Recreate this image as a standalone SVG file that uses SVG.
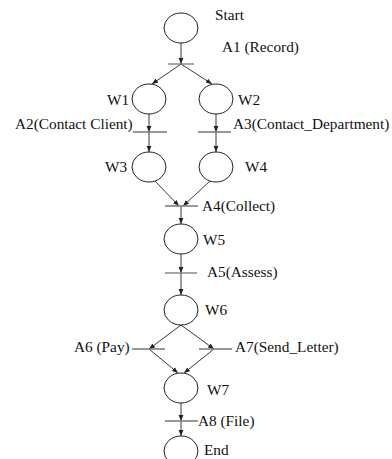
<svg xmlns="http://www.w3.org/2000/svg" width="392" height="459" viewBox="0 0 392 459">
<style>
.place{fill:#fff;stroke:#222;stroke-width:1}
.bar{stroke:#777;stroke-width:1.3}
.lbl{font-family:"Liberation Serif","Times New Roman",serif;font-size:15.3px;fill:#111}
.arc{stroke:#222;stroke-width:0.9;fill:none;marker-end:url(#ah)}
</style>
<defs>
<marker id="ah" viewBox="0 0 10 10" refX="10" refY="5" markerWidth="6" markerHeight="6" markerUnits="userSpaceOnUse" orient="auto">
<path d="M0,1 L10,5 L0,9 z" fill="#222"/>
</marker>
</defs>
<rect width="392" height="459" fill="#fff"/>
<g id="connectors">
<line class="arc" x1="181" y1="43" x2="181" y2="64"/>
<line class="arc" x1="181" y1="64" x2="152" y2="84"/>
<line class="arc" x1="181" y1="64" x2="212" y2="84"/>
<line class="arc" x1="149" y1="114" x2="149" y2="132"/>
<line class="arc" x1="149" y1="132" x2="149" y2="152"/>
<line class="arc" x1="216" y1="114" x2="216" y2="132"/>
<line class="arc" x1="216" y1="132" x2="216" y2="152"/>
<line class="arc" x1="155" y1="181" x2="179" y2="206"/>
<line class="arc" x1="210" y1="181" x2="183" y2="206"/>
<line class="arc" x1="181" y1="206" x2="181" y2="224"/>
<line class="arc" x1="181" y1="254" x2="181" y2="273"/>
<line class="arc" x1="181" y1="273" x2="181" y2="295"/>
<line class="arc" x1="181" y1="325" x2="149" y2="349"/>
<line class="arc" x1="181" y1="325" x2="214" y2="349"/>
<line class="arc" x1="149" y1="349" x2="178" y2="373"/>
<line class="arc" x1="214" y1="349" x2="184" y2="373"/>
<line class="arc" x1="181" y1="403" x2="181" y2="421"/>
<line class="arc" x1="181" y1="421" x2="181" y2="436"/>
</g>
<g id="Start"><ellipse class="place" cx="181" cy="28" rx="17" ry="15"/><text class="lbl" x="215" y="20">Start</text></g>
<g id="A1"><line class="bar" x1="168" y1="64" x2="194" y2="64"/><text class="lbl" x="222" y="52">A1 (Record)</text></g>
<g id="W1"><ellipse class="place" cx="149" cy="99" rx="17" ry="15"/><text class="lbl" x="107" y="105">W1</text></g>
<g id="W2"><ellipse class="place" cx="216" cy="99" rx="17" ry="15"/><text class="lbl" x="238" y="105">W2</text></g>
<g id="A2"><line class="bar" x1="133" y1="132" x2="167" y2="132"/><text class="lbl" x="15" y="129">A2(Contact Client)</text></g>
<g id="A3"><line class="bar" x1="198" y1="132" x2="231" y2="132"/><text class="lbl" x="233" y="129">A3(Contact_Department)</text></g>
<g id="W3"><ellipse class="place" cx="149" cy="167" rx="17" ry="15"/><text class="lbl" x="105" y="172">W3</text></g>
<g id="W4"><ellipse class="place" cx="216" cy="167" rx="17" ry="15"/><text class="lbl" x="245" y="172">W4</text></g>
<g id="A4"><line class="bar" x1="165" y1="206" x2="198" y2="206"/><text class="lbl" x="202" y="211">A4(Collect)</text></g>
<g id="W5"><ellipse class="place" cx="181" cy="239" rx="17" ry="15"/><text class="lbl" x="203" y="245">W5</text></g>
<g id="A5"><line class="bar" x1="165" y1="273" x2="197" y2="273"/><text class="lbl" x="207" y="277">A5(Assess)</text></g>
<g id="W6"><ellipse class="place" cx="181" cy="310" rx="17" ry="15"/><text class="lbl" x="205" y="315">W6</text></g>
<g id="A6"><line class="bar" x1="132" y1="349" x2="165" y2="349"/><text class="lbl" x="74" y="352">A6 (Pay)</text></g>
<g id="A7"><line class="bar" x1="199" y1="349" x2="232" y2="349"/><text class="lbl" x="235" y="352">A7(Send_Letter)</text></g>
<g id="W7"><ellipse class="place" cx="181" cy="388" rx="17" ry="15"/><text class="lbl" x="207" y="395">W7</text></g>
<g id="A8"><line class="bar" x1="165" y1="421" x2="198" y2="421"/><text class="lbl" x="198" y="426">A8 (File)</text></g>
<g id="End"><ellipse class="place" cx="181" cy="451" rx="17" ry="15"/><text class="lbl" x="204" y="455">End</text></g>
</svg>
